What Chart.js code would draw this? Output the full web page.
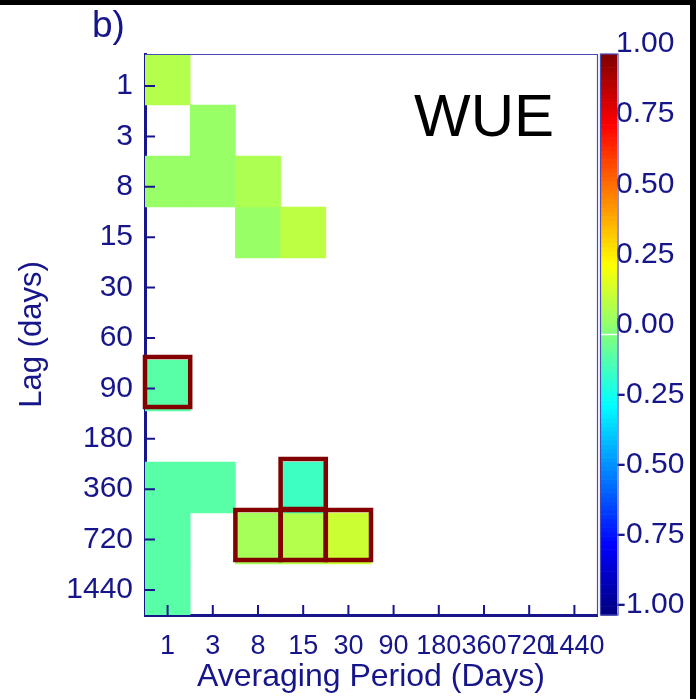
<!DOCTYPE html>
<html>
<head>
<meta charset="utf-8">
<script src="https://cdn.jsdelivr.net/npm/chart.js@4.4.1/dist/chart.umd.min.js"></script>
<style>
  html, body { margin: 0; padding: 0; background: #fff; }
  #wrap { width: 696px; height: 699px; position: relative; }
</style>
</head>
<body>
<div id="wrap"><canvas id="c"></canvas></div>
<script>
// Axis categories
const periods = ['1', '3', '8', '15', '30', '90', '180', '360', '720', '1440'];
const lags = ['1', '3', '8', '15', '30', '60', '90', '180', '360', '720', '1440'];

// Shown cells: lag (row), averaging period (column), correlation, significance outline
const cellLag    = ['1', '3', '8', '8', '8', '15', '15', '90', '360', '360', '360', '720', '720', '720', '720', '1440'];
const cellPeriod = ['1', '3', '1', '3', '8', '8', '15', '1', '1', '3', '15', '1', '8', '15', '30', '1'];
const cellValue  = [0.10, 0.05, 0.05, 0.05, 0.09, 0.05, 0.12, -0.075, -0.075, -0.075, -0.13, -0.075, 0.075, 0.10, 0.15, -0.075];
const cellSignif = [false, false, false, false, false, false, false, true, false, false, true, false, true, true, true, false];

// Colour bar tick values
const cbarTicks = [-1, -0.75, -0.5, -0.25, 0, 0.25, 0.5, 0.75, 1];

const NAVY = '#16168a';
const FRAME = '#4a4ab4';
const OUTLINE = '#820000';
const FONT = '"Liberation Sans", Arial, Helvetica, sans-serif';

// jet colour map on [-1, 1]
function jet(v) {
  const t = (v + 1) / 2;
  const c = x => Math.round(255 * Math.max(0, Math.min(1, x)));
  return `rgb(${c(1.5 - Math.abs(4 * t - 3))},${c(1.5 - Math.abs(4 * t - 2))},${c(1.5 - Math.abs(4 * t - 1))})`;
}

// one floating-bar dataset per lag row
const datasets = lags.map((lag, r) => {
  const idx = periods.map(p => cellLag.findIndex((l, k) => l === lag && cellPeriod[k] === p));
  return {
    label: 'lag ' + lag,
    data: idx.map(k => (k >= 0 ? [r - 0.5, r + 0.5] : null)),
    backgroundColor: idx.map(k => (k >= 0 ? jet(cellValue[k]) : 'rgba(0,0,0,0)')),
    outlined: idx.map(k => k >= 0 && cellSignif[k]),
    borderWidth: 0,
    grouped: false,
    categoryPercentage: 1,
    barPercentage: 1
  };
});

const decorations = {
  id: 'decorations',
  beforeDraw(chart) {
    const ctx = chart.ctx;
    ctx.save();
    ctx.fillStyle = '#fff';
    ctx.fillRect(0, 0, chart.width, chart.height);
    ctx.restore();
  },
  afterDraw(chart) {
    const ctx = chart.ctx;
    const a = chart.chartArea;
    const xs = chart.scales.x, yt = chart.scales.yTicks, cb = chart.scales.cb;
    ctx.save();

    // thin top and right frame
    ctx.strokeStyle = FRAME;
    ctx.lineWidth = 1.2;
    ctx.beginPath();
    ctx.moveTo(a.left, a.top + 0.5);
    ctx.lineTo(a.right + 0.5, a.top + 0.5);
    ctx.lineTo(a.right + 0.5, a.bottom);
    ctx.stroke();

    // inward tick marks
    ctx.strokeStyle = NAVY;
    ctx.lineWidth = 2;
    ctx.beginPath();
    yt.ticks.forEach((t, i) => {
      const y = yt.getPixelForTick(i);
      ctx.moveTo(a.left, y);
      ctx.lineTo(a.left + 10, y);
    });
    xs.ticks.forEach((t, i) => {
      const x = xs.getPixelForTick(i);
      ctx.moveTo(x, a.bottom);
      ctx.lineTo(x, a.bottom - 10);
    });
    ctx.stroke();

    // significance outlines
    ctx.strokeStyle = OUTLINE;
    ctx.lineWidth = 4.5;
    chart.data.datasets.forEach((ds, di) => {
      const meta = chart.getDatasetMeta(di);
      meta.data.forEach((el, i) => {
        if (!ds.outlined[i]) return;
        const p = el.getProps(['x', 'y', 'base', 'width'], true);
        const top = Math.min(p.y, p.base);
        const h = Math.abs(p.base - p.y);
        ctx.strokeRect(p.x - p.width / 2, top - 3, p.width, h - 1);
      });
    });

    // colour bar
    const bx = cb.left + 4, bw = 16;
    const n = 128;
    for (let k = 0; k < n; k++) {
      const v0 = -1 + 2 * k / n, v1 = -1 + 2 * (k + 1) / n;
      const y0 = cb.getPixelForValue(v1), y1 = cb.getPixelForValue(v0);
      ctx.fillStyle = jet((v0 + v1) / 2);
      ctx.fillRect(bx, y0, bw, y1 - y0 + 0.6);
    }
    ctx.strokeStyle = '#fff';
    ctx.lineWidth = 1.5;
    ctx.beginPath();
    const yz = cb.getPixelForValue(0);
    ctx.moveTo(bx, yz);
    ctx.lineTo(bx + bw, yz);
    ctx.stroke();
    ctx.strokeStyle = FRAME;
    ctx.lineWidth = 1.2;
    ctx.strokeRect(cb.left + 3.5, cb.getPixelForValue(1), bw + 1.5, cb.getPixelForValue(-1) - cb.getPixelForValue(1));

    // panel letter and variable name
    ctx.fillStyle = NAVY;
    ctx.font = '37px ' + FONT;
    ctx.textAlign = 'left';
    ctx.textBaseline = 'alphabetic';
    ctx.fillText('b)', 92, 37);
    ctx.fillStyle = '#000';
    ctx.font = '60px ' + FONT;
    ctx.fillText('WUE', 414, 136);

    // dark margins of the panel
    ctx.fillStyle = '#000';
    ctx.fillRect(0, 0, chart.width, 5);
    ctx.fillRect(690, 0, chart.width - 690, chart.height);
    ctx.restore();
  }
};

new Chart(document.getElementById('c'), {
  type: 'bar',
  data: { labels: periods, datasets },
  options: {
    responsive: true,
    maintainAspectRatio: false,
    animation: false,
    layout: { padding: { top: 54, left: 0, right: 0, bottom: 0 } },
    plugins: { legend: { display: false }, tooltip: { enabled: false } },
    scales: {
      x: {
        type: 'category',
        offset: true,
        z: 1,
        grid: { display: false, drawTicks: false },
        border: { display: true, color: NAVY, width: 3 },
        ticks: { color: NAVY, font: { family: FONT, size: 27 }, padding: 15, autoSkip: false, maxRotation: 0, minRotation: 0 },
        title: {
          display: true, text: 'Averaging Period (Days)', color: NAVY,
          font: { family: FONT, size: 32, lineHeight: 1 }, padding: { top: 0, bottom: 6 }
        },
        afterFit(s) { s.height = 84; }
      },
      y: {
        type: 'linear',
        display: false,
        reverse: true,
        min: -0.5,
        max: 10.5
      },
      yTicks: {
        type: 'linear',
        position: 'left',
        reverse: true,
        min: -0.635,
        max: 10.496,
        z: 1,
        grid: { display: false, drawTicks: false },
        border: { display: true, color: NAVY, width: 3 },
        afterBuildTicks(s) { s.ticks = lags.map((_, i) => ({ value: i })); },
        ticks: {
          color: NAVY, font: { family: FONT, size: 30 }, padding: 12, autoSkip: false,
          callback: v => lags[v]
        },
        title: {
          display: true, text: 'Lag (days)', color: NAVY,
          font: { family: FONT, size: 31, lineHeight: 1 }, padding: { top: 17, bottom: 0 }
        },
        afterFit(s) { s.width = 145; }
      },
      cb: {
        type: 'linear',
        position: 'right',
        min: -1,
        max: 1,
        grid: { display: false, drawTicks: false },
        border: { display: false },
        afterBuildTicks(s) { s.ticks = cbarTicks.map(v => ({ value: v })); },
        ticks: {
          color: NAVY, font: { family: FONT, size: 30 }, padding: 19, labelOffset: -10, autoSkip: false,
          callback: v => v.toFixed(2)
        },
        afterFit(s) { s.width = 99; }
      }
    }
  },
  plugins: [decorations]
});
</script>
</body>
</html>
